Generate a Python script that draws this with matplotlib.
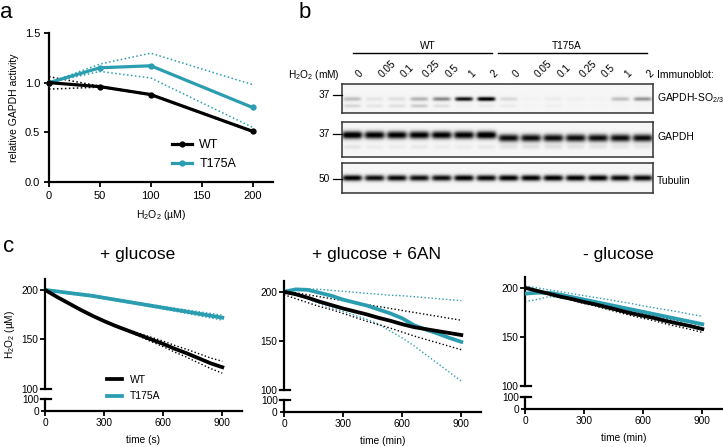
import numpy as np
import matplotlib
matplotlib.use('Agg')
import matplotlib.pyplot as plt

plt.rcParams['font.family'] = ['Liberation Sans', 'DejaVu Sans']
plt.rcParams['mathtext.fontset'] = 'custom'
plt.rcParams['mathtext.rm'] = 'Liberation Sans'
plt.rcParams['mathtext.default'] = 'regular'

TEAL = '#2a9db1'
W, H = 723, 447

# ---- panel a: GAPDH activity vs H2O2 ----
dose = [0, 50, 100, 200]
wt_act = [1.0, 0.96, 0.88, 0.51]
wt_act_hi = [1.06, 0.965, 0.885, 0.515]
wt_act_lo = [0.935, 0.955, 0.875, 0.505]
mut_act = [1.0, 1.15, 1.17, 0.75]
mut_act_hi = [1.0, 1.187, 1.297, 0.98]
mut_act_lo = [1.0, 1.113, 1.047, 0.55]

# ---- panel b: immunoblot band intensities (0..1) ----
groups = ['WT', 'T175A']
conc = ['0', '0.05', '0.1', '0.25', '0.5', '1', '2']
so_band = [0.3, 0.12, 0.15, 0.35, 0.5, 0.9, 1.0, 0.18, 0.04, 0.08, 0.06, 0.03, 0.3, 0.45]
so_band2 = [0.2, 0.12, 0.15, 0.25, 0.15, 0.05, 0.08, 0.08, 0.02, 0.06, 0.02, 0.02, 0.02, 0.02]
gapdh_band = [1.0, 0.95, 0.95, 0.95, 0.95, 0.95, 1.0, 0.9, 0.9, 0.9, 0.9, 0.9, 0.9, 0.9]
gapdh_band2 = [0.12, 0.08, 0.08, 0.1, 0.08, 0.08, 0.1, 0.12, 0.14, 0.14, 0.12, 0.12, 0.1, 0.1]
tub_band = [0.95, 0.9, 0.92, 0.9, 0.9, 0.95, 0.92, 0.95, 0.95, 0.95, 0.95, 0.95, 0.92, 0.92]

# ---- panel c: H2O2 consumption ----
t = [0, 60, 120, 180, 240, 300, 360, 420, 480, 540, 600, 660, 720, 780, 840, 900]

glc_wt = [200, 193, 186.5, 180, 174, 168.5, 163.5, 159, 154.5, 150, 145.5, 140.5, 136, 131, 126, 122]
glc_wt_sd = [0, 0, 0, 0, 0, 0, 0.3, 0.8, 1.5, 2.2, 2.8, 3.4, 4.0, 4.7, 5.3, 6.0]
glc_mut = [200, 198.5, 197, 195.5, 194, 192, 190, 188, 186, 184, 182, 180, 178, 176, 174, 172]
glc_mut_sd = [0, 0.5, 0.8, 1, 1, 1, 1, 1, 1, 1.2, 1.3, 1.5, 1.7, 2, 2.3, 2.5]

an_wt = [200, 197.5, 194, 190, 186.5, 183, 180, 177, 173.5, 170.5, 167, 164, 162, 160, 158, 156]
an_wt_hi = [201, 199, 197, 195, 193, 191, 189, 187, 185, 183, 181, 179, 177, 175, 173, 171]
an_wt_lo = [197, 193, 189, 185, 182, 178, 174, 170, 166.5, 163, 159, 155, 151.5, 148, 144.5, 141]
an_mut = [200, 202.5, 202, 199, 196, 192, 189, 186, 182, 178, 173, 166, 161.5, 157.5, 153, 149]
an_mut_hi = [201, 203, 203, 202.5, 201.5, 200.5, 199.5, 198.5, 197.5, 196.5, 196, 195, 194, 193, 192, 191]
an_mut_lo = [199, 197, 193, 188, 184, 180, 176, 172, 167, 160, 153, 145, 136, 127, 118, 109]

ng_wt = [200, 197, 194, 191, 188.5, 185.5, 183, 180, 177, 174, 171.5, 169, 166, 163.5, 161, 158]
ng_wt_sd = [0, 0.3, 0.6, 1, 1.2, 1.5, 1.7, 2, 2.2, 2.4, 2.6, 2.8, 3, 3.2, 3.4, 3.5]
ng_mut = [194, 195, 195, 193, 190.5, 188, 185.5, 183, 180.5, 178, 175.5, 173, 170.5, 168, 165.5, 163]
ng_mut_hi = [202, 200, 198, 196, 194, 192, 190, 188, 186, 184, 181.5, 179.5, 177.5, 175.5, 173, 171]
ng_mut_lo = [186, 188, 191, 190, 188, 185.5, 183, 180.5, 178, 175.5, 173, 170.5, 168, 165, 162, 159]

fig = plt.figure(figsize=(W / 100, H / 100), dpi=100)


def add_px(x0, y0, x1, y1):
    return fig.add_axes([x0 / W, 1 - y1 / H, (x1 - x0) / W, (y1 - y0) / H])


def text_px(x, y, s, **kw):
    fig.text(x / W, 1 - y / H, s, **kw)


def style(ax, lw=1.6):
    for s in ax.spines.values():
        s.set_linewidth(lw)
    ax.spines['top'].set_visible(False)
    ax.spines['right'].set_visible(False)
    ax.tick_params(length=3.5, width=1.3, direction='out')


dot = (0, (1, 1.6))

# ===== panel a =====
ax = add_px(49, 33, 273, 182)
style(ax)
for hi, lo, c in [(wt_act_hi, wt_act_lo, 'black'), (mut_act_hi, mut_act_lo, TEAL)]:
    ax.plot(dose, hi, color=c, lw=1.1, ls=dot, clip_on=False)
    ax.plot(dose, lo, color=c, lw=1.1, ls=dot, clip_on=False)
ax.plot(dose, mut_act, color=TEAL, lw=2.3, marker='o', ms=3.5, clip_on=False, label='T175A', zorder=4)
ax.plot(dose, wt_act, color='black', lw=2.3, marker='o', ms=3.5, clip_on=False, label='WT', zorder=5)
ax.set_xlim(0, 220)
ax.set_ylim(0, 1.5)
ax.set_xticks([0, 50, 100, 150, 200])
ax.set_yticks([0, 0.5, 1.0, 1.5])
ax.set_yticklabels(['0.0', '0.5', '1.0', '1.5'])
ax.tick_params(labelsize=8, pad=3)
ax.set_ylabel('relative GAPDH activity', fontsize=7.5, labelpad=4)
ax.set_xlabel('H$_2$O$_2$ (µM)', fontsize=7.5, labelpad=5)
h, l = ax.get_legend_handles_labels()
ax.legend(h[::-1], l[::-1], loc='upper left', bbox_to_anchor=(0.52, 0.33), frameon=False,
          fontsize=9, handlelength=1.6, handletextpad=0.6, labelspacing=0.55, borderpad=0)

# ===== panel b =====
bx0, bx1 = 342, 653
lane_lim = (-0.45, 13.45)


def blot(y0, y1, rows):
    bax = add_px(bx0, y0, bx1, y1)
    xs = np.linspace(lane_lim[0], lane_lim[1], 700)
    ys = np.linspace(y0, y1, 90)
    X, Y = np.meshgrid(xs, ys)
    img = np.full(X.shape, 0.07)
    for vals, yc, hh, hw in rows:
        for i, v in enumerate(vals):
            yy = yc[i] if np.ndim(yc) else yc
            img += v * np.exp(-((X - i) / hw) ** 6) * np.exp(-((Y - yy) / hh) ** 2)
    bax.imshow(np.clip(img, 0, 1), cmap='Greys', vmin=0, vmax=1,
               extent=(lane_lim[0], lane_lim[1], y1, y0), aspect='auto', interpolation='bilinear')
    bax.set_xlim(*lane_lim)
    bax.set_ylim(y1, y0)
    bax.set_xticks([])
    bax.set_yticks([])
    for s in bax.spines.values():
        s.set_linewidth(1.1)
        s.set_color('#333333')
    return bax


lane_y_gapdh = [135] * 7 + [138] * 7
blot(84, 113, [(so_band, 99, 2.3, 0.42), (so_band2, 106, 2.0, 0.40)])
blot(122, 157, [(gapdh_band, lane_y_gapdh, 4.3, 0.47), (gapdh_band2, 147, 2.5, 0.42)])
blot(163, 193, [(tub_band, 178, 3.4, 0.46)])

hax = add_px(bx0, 30, bx1, 84)
hax.set_xlim(*lane_lim)
hax.set_ylim(84, 30)
hax.axis('off')
hax.plot([0.04, 6.25], [53, 53], color='black', lw=1.0)
hax.plot([6.5, 13.2], [53, 53], color='black', lw=1.0)
hax.text(3.4, 46, groups[0], ha='center', va='center', fontsize=7.3)
hax.text(9.6, 46, groups[1], ha='center', va='center', fontsize=7.3)
labels14 = conc + conc
for i, s in enumerate(labels14):
    hax.text(i + 0.1, 79, s, rotation=45, ha='left', va='bottom', fontsize=7.3)

text_px(340, 75, 'H$_2$O$_2$ (mM)', ha='right', va='center', fontsize=7.3)
text_px(657, 75, 'Immunoblot:', ha='left', va='center', fontsize=7.5)
text_px(657, 98, 'GAPDH-SO$_{2/3}$', ha='left', va='center', fontsize=7.5)
text_px(657, 137, 'GAPDH', ha='left', va='center', fontsize=7.5)
text_px(657, 181, 'Tubulin', ha='left', va='center', fontsize=7.5)
for lab, y in [('37', 95), ('37', 134), ('50', 179)]:
    text_px(330, y, lab, ha='right', va='center', fontsize=7.3)
    fig.add_artist(plt.Line2D([333 / W, 342 / W], [1 - y / H, 1 - y / H], color='black', lw=0.9))

# ===== panel c =====
def time_panel(left, up_top, up_bot, lo_top, lo_bot, title, xlabel,
               wt, wt_hi, wt_lo, mut, mut_hi, mut_lo, legend=False, ylabel=False):
    right = left + 197
    ua = add_px(left, up_top, right, up_bot)
    la = add_px(left, lo_top, right, lo_bot)
    style(ua)
    style(la)
    ua.spines['bottom'].set_visible(False)
    ua.set_xlim(0, 1000)
    ua.set_ylim(100, 211)
    ua.set_xticks([])
    ua.set_yticks([100, 150, 200])
    ua.tick_params(labelsize=7.3, pad=1.5)
    ua.plot(t, mut_hi, color=TEAL, lw=1.0, ls=dot)
    ua.plot(t, mut_lo, color=TEAL, lw=1.0, ls=dot)
    ua.plot(t, wt_hi, color='black', lw=1.0, ls=dot)
    ua.plot(t, wt_lo, color='black', lw=1.0, ls=dot)
    ua.plot(t, mut, color=TEAL, lw=2.7, label='T175A', zorder=4)
    ua.plot(t, wt, color='black', lw=2.7, label='WT', zorder=5)
    ua.plot([-0.022, 0.03], [0, 0], color='black', lw=1.6, transform=ua.transAxes, clip_on=False)

    la.set_xlim(0, 1000)
    la.set_ylim(0, 100)
    la.set_yticks([0, 100])
    la.set_xticks([0, 300, 600, 900])
    la.tick_params(labelsize=7.3, pad=1.5)
    la.tick_params(axis='y', length=3)
    la.plot([-0.022, 0.03], [1, 1], color='black', lw=1.6, transform=la.transAxes, clip_on=False)
    la.set_xlabel(xlabel, fontsize=7.3, labelpad=5)
    if ylabel:
        ua.set_ylabel('H$_2$O$_2$ (µM)', fontsize=7.3, labelpad=3)
    if legend:
        h, l = ua.get_legend_handles_labels()
        ua.legend(h[::-1], l[::-1], loc='upper left', bbox_to_anchor=(0.29, 0.175), frameon=False,
                  fontsize=7.5, handlelength=1.4, handletextpad=0.8, labelspacing=0.6, borderpad=0)
    text_px(left + 93, 255, title, ha='center', va='center', fontsize=12.5)


glc_wt_hi = np.array(glc_wt) + np.array(glc_wt_sd)
glc_wt_lo = np.array(glc_wt) - np.array(glc_wt_sd)
glc_mut_hi = np.array(glc_mut) + np.array(glc_mut_sd)
glc_mut_lo = np.array(glc_mut) - np.array(glc_mut_sd)
ng_wt_hi = np.array(ng_wt) + np.array(ng_wt_sd)
ng_wt_lo = np.array(ng_wt) - np.array(ng_wt_sd)

time_panel(45, 279, 389, 399, 411, '+ glucose', 'time (s)',
           glc_wt, glc_wt_hi, glc_wt_lo, glc_mut, glc_mut_hi, glc_mut_lo, legend=True, ylabel=True)
time_panel(284, 281, 390, 400, 412, '+ glucose + 6AN', 'time (min)',
           an_wt, an_wt_hi, an_wt_lo, an_mut, an_mut_hi, an_mut_lo)
time_panel(525, 277, 386, 397, 409, '- glucose', 'time (min)',
           ng_wt, ng_wt_hi, ng_wt_lo, ng_mut, ng_mut_hi, ng_mut_lo)

# panel letters
text_px(0, 12, 'a', ha='left', va='center', fontsize=16)
text_px(299, 12, 'b', ha='left', va='center', fontsize=16)
text_px(3, 247, 'c', ha='left', va='center', fontsize=16)

fig.savefig('out.png', dpi=100)
